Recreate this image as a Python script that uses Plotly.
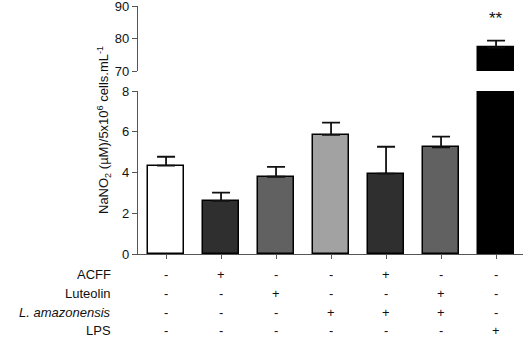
import plotly.graph_objects as go

groups = ["Control", "ACFF", "Luteolin", "L. amazonensis", "ACFF + L. amazonensis", "Luteolin + L. amazonensis", "LPS"]
means = [4.34, 2.62, 3.80, 5.85, 3.95, 5.24, 77.2]
sem = [0.44, 0.40, 0.48, 0.60, 1.32, 0.52, 2.2]
colors = ["#ffffff", "#2f2f2f", "#616161", "#a2a2a2", "#2f2f2f", "#616161", "#000000"]
row_labels = ["ACFF", "Luteolin", "<i>L. amazonensis</i>", "LPS"]
table = [
    ["-", "+", "-", "-", "+", "-", "-"],
    ["-", "-", "+", "-", "-", "+", "-"],
    ["-", "-", "-", "+", "+", "+", "-"],
    ["-", "-", "-", "-", "-", "-", "+"],
]
lower_ticks = [0, 2, 4, 6, 8]
upper_ticks = [70, 80, 90]

W, H = 526, 337
xpos = list(range(len(groups)))

def bar_trace(xa, ya):
    return go.Bar(
        x=xpos, y=means, xaxis=xa, yaxis=ya,
        width=0.67,
        marker=dict(color=colors, line=dict(color="#000000", width=1.5)),
        error_y=dict(type="data", array=sem, arrayminus=[0] * len(sem),
                     symmetric=False, color="#111111", thickness=1.8, width=9),
        showlegend=False, hoverinfo="skip",
    )

fig = go.Figure()
fig.add_trace(bar_trace("x", "y"))
fig.add_trace(bar_trace("x2", "y2"))

xdom = [138 / W, 523 / W]
xr = [-0.51, 6.49]
axis_col = "#555555"
FONT = "Liberation Sans, Arial, sans-serif"
tickfont = dict(family=FONT, size=13, color="#111111")

fig.update_layout(
    width=W, height=H,
    margin=dict(l=0, r=0, t=0, b=0, autoexpand=False),
    paper_bgcolor="white", plot_bgcolor="white",
    bargap=0,
    xaxis=dict(domain=xdom, range=xr, anchor="y", showgrid=False, zeroline=False, automargin=False,
               showline=True, linecolor=axis_col, linewidth=1.3,
               tickmode="array", tickvals=xpos, showticklabels=False,
               ticks="outside", ticklen=4, tickcolor=axis_col, tickwidth=1),
    yaxis=dict(domain=[(H - 254.3) / H, (H - 91) / H], range=[0, 8], anchor="x", automargin=False,
               showgrid=False, zeroline=False, showline=True, linecolor=axis_col, linewidth=1.3,
               tickmode="array", tickvals=lower_ticks, ticks="outside", ticklen=5,
               tickcolor=axis_col, tickfont=tickfont, ticklabeloverflow="allow"),
    xaxis2=dict(domain=xdom, range=xr, anchor="y2", visible=False, automargin=False),
    yaxis2=dict(domain=[(H - 71) / H, (H - 6.3) / H], range=[70, 90], anchor="x2", automargin=False,
                showgrid=False, zeroline=False, showline=True, linecolor=axis_col, linewidth=1.3,
                tickmode="array", tickvals=upper_ticks, ticks="outside", ticklen=5,
                tickcolor=axis_col, tickfont=tickfont, ticklabeloverflow="allow"),
)

ann = []
ann.append(dict(text="NaNO<sub>2</sub> (µM)/5x10<sup>6</sup> cells.mL<sup>-1</sup>",
                xref="paper", yref="paper", x=104 / W, y=(H - 130) / H,
                textangle=-90, showarrow=False, xanchor="center", yanchor="middle",
                font=dict(family=FONT, size=13, color="#111111")))
ann.append(dict(text="**", xref="x2", yref="y2", x=6, y=86.2, showarrow=False,
                font=dict(family=FONT, size=17, color="#111111")))

row_y = [274, 293, 312, 330]
for r, lab in enumerate(row_labels):
    ann.append(dict(text=lab, xref="paper", yref="paper", x=112 / W, y=(H - row_y[r]) / H,
                    xanchor="right", yanchor="middle", showarrow=False, height=14, borderpad=0,
                    font=dict(family=FONT, size=13, color="#111111")))
    for c, s in enumerate(table[r]):
        ann.append(dict(text=s, xref="x", yref="paper", x=xpos[c], y=(H - row_y[r]) / H,
                        xanchor="center", yanchor="middle", showarrow=False, height=14, borderpad=0,
                        font=dict(family=FONT, size=13, color="#111111")))
fig.update_layout(annotations=ann)

fig.write_html("out.html", config={"displayModeBar": False},
               post_script="document.body.style.margin='0px';document.body.style.overflow='hidden';")
